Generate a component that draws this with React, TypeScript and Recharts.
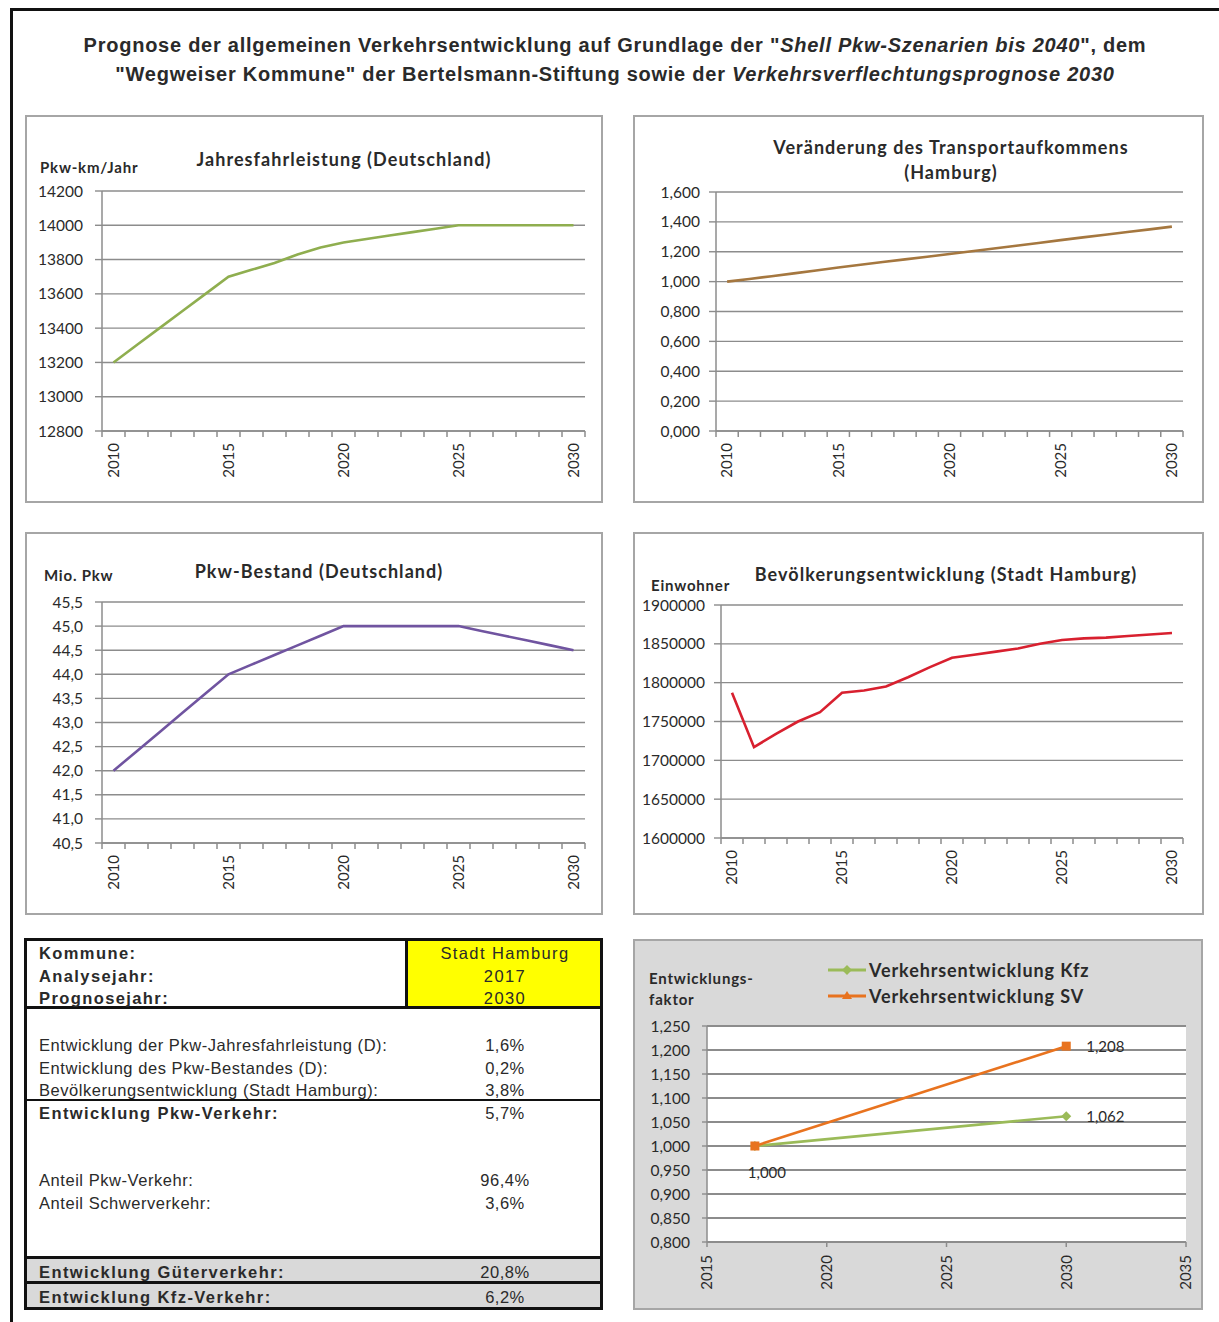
import React from 'react'
import { LineChart, Line, XAxis, YAxis, CartesianGrid, LabelList, Legend } from 'recharts'

const CHART_FONT = 'Lato, "Open Sans", sans-serif'
const TABLE_FONT = '"Liberation Sans", Arial, sans-serif'
const gridColor = '#8c8c8c'
const axisColor = '#8c8c8c'
const textColor = '#2a2a2a'

// Jahreswerte 2010 - 2030
const years = [2010, 2011, 2012, 2013, 2014, 2015, 2016, 2017, 2018, 2019, 2020, 2021, 2022, 2023, 2024, 2025, 2026, 2027, 2028, 2029, 2030]
const yearLabels = [2010, 2015, 2020, 2025, 2030]

const fahrleistung = [13200, 13300, 13400, 13500, 13600, 13700, 13740, 13780, 13830, 13870, 13900, 13920, 13940, 13960, 13980, 14000, 14000, 14000, 14000, 14000, 14000]
const fahrleistungTicks = [12800, 13000, 13200, 13400, 13600, 13800, 14000, 14200]

const transport = [1.0, 1.018, 1.036, 1.055, 1.075, 1.095, 1.113, 1.131, 1.149, 1.167, 1.185, 1.203, 1.222, 1.24, 1.259, 1.278, 1.296, 1.314, 1.332, 1.35, 1.368]
const transportTicks = [0, 0.2, 0.4, 0.6, 0.8, 1.0, 1.2, 1.4, 1.6]

const pkwBestand = [42.0, 42.4, 42.8, 43.2, 43.6, 44.0, 44.2, 44.4, 44.6, 44.8, 45.0, 45.0, 45.0, 45.0, 45.0, 45.0, 44.9, 44.8, 44.7, 44.6, 44.5]
const bestandTicks = [40.5, 41.0, 41.5, 42.0, 42.5, 43.0, 43.5, 44.0, 44.5, 45.0, 45.5]

const einwohner = [1787000, 1717000, 1734000, 1750000, 1762000, 1787000, 1790000, 1795000, 1807000, 1820000, 1832000, 1836000, 1840000, 1844000, 1850000, 1855000, 1857000, 1858000, 1860000, 1862000, 1864000]
const einwohnerTicks = [1600000, 1650000, 1700000, 1750000, 1800000, 1850000, 1900000]

// Entwicklungsfaktoren
const prognoseJahre = [2017, 2030]
const kfzFaktor = [1.0, 1.062]
const svFaktor = [1.0, 1.208]
const faktorTicks = [0.8, 0.85, 0.9, 0.95, 1.0, 1.05, 1.1, 1.15, 1.2, 1.25]
const faktorYearTicks = [2015, 2020, 2025, 2030, 2035]
const kfzName = 'Verkehrsentwicklung Kfz'
const svName = 'Verkehrsentwicklung SV'

// Tabelle
const headerLabels = ['Kommune:', 'Analysejahr:', 'Prognosejahr:']
const headerValues = ['Stadt Hamburg', '2017', '2030']
const faktorRows = [
    { label: 'Entwicklung der Pkw-Jahresfahrleistung (D):', value: '1,6%' },
    { label: 'Entwicklung des Pkw-Bestandes (D):', value: '0,2%' },
    { label: 'Bevölkerungsentwicklung (Stadt Hamburg):', value: '3,8%' },
]
const pkwRow = { label: 'Entwicklung Pkw-Verkehr:', value: '5,7%' }
const anteilRows = [
    { label: 'Anteil Pkw-Verkehr:', value: '96,4%' },
    { label: 'Anteil Schwerverkehr:', value: '3,6%' },
]
const gueterRow = { label: 'Entwicklung Güterverkehr:', value: '20,8%' }
const kfzRow = { label: 'Entwicklung Kfz-Verkehr:', value: '6,2%' }

const boundaryTicks = years.map(y => y - 0.5).concat([years[years.length - 1] + 0.5])

const YearTick = ({ x, y, payload }: any) => {
    const v = payload.value
    if (!Number.isInteger(v)) {
        return <line x1={x} y1={y} x2={x} y2={y + 6} stroke={axisColor} strokeWidth={1.5} />
    }
    return (
        <text x={x} y={y + 12} transform={`rotate(-90 ${x} ${y + 12})`} textAnchor="end" dy="0.35em"
            fontSize={15} fontFamily={CHART_FONT} fill={textColor}>{v}</text>
    )
}

const FaktorTick = ({ x, y, payload }: any) => (
    <g>
        <line x1={x} y1={y} x2={x} y2={y + 5} stroke={axisColor} strokeWidth={1.5} />
        <text x={x} y={y + 13} transform={`rotate(-90 ${x} ${y + 13})`} textAnchor="end" dy="0.35em"
            fontSize={15} fontFamily={CHART_FONT} fill={textColor}>{payload.value}</text>
    </g>
)

type PanelProps = {
    left: number; top: number; width: number; height: number
    values: number[]; color: string
    yDomain: [number, number]; yTicks: number[]; fmt: (v: number) => string
    margin: { top: number; right: number; bottom: number }
    yWidth: number; yTickMargin: number
    title: string[]; titleX: number; titleY: number; titleGap?: number
    unit?: string; unitX?: number; unitY?: number
}

const YearPanel = (p: PanelProps) => {
    const data = years.map((year, i) => ({ year, v: p.values[i] }))
    return (
        <div style={{ position: 'absolute', left: p.left, top: p.top, width: p.width, height: p.height, background: '#fff' }}>
            <LineChart width={p.width} height={p.height} data={data}
                margin={{ top: p.margin.top, right: p.margin.right, bottom: 0, left: 0 }}>
                <CartesianGrid vertical={false} stroke={gridColor} strokeWidth={1.4} />
                <XAxis dataKey="year" type="number" domain={[2009.5, 2030.5]}
                    ticks={[...boundaryTicks, ...yearLabels]} interval={0}
                    height={p.margin.bottom} tickSize={0} tickMargin={0} tickLine={false}
                    axisLine={{ stroke: axisColor, strokeWidth: 1.5 }} tick={<YearTick />} />
                <YAxis type="number" domain={p.yDomain} ticks={p.yTicks} interval={0}
                    tickFormatter={p.fmt} width={p.yWidth} tickSize={7} tickMargin={p.yTickMargin}
                    axisLine={{ stroke: axisColor, strokeWidth: 1.5 }} tickLine={{ stroke: axisColor, strokeWidth: 1.4 }}
                    tick={{ fontSize: 15.5, fill: textColor, fontFamily: CHART_FONT }} />
                <Line type="linear" dataKey="v" stroke={p.color} strokeWidth={2.6} dot={false} isAnimationActive={false} />
            </LineChart>
            {p.title.map((t, i) => (
                <div key={t} style={{
                    position: 'absolute', left: p.titleX - 260, width: 520, textAlign: 'center',
                    top: p.titleY + i * (p.titleGap || 25) - 12, height: 24, lineHeight: '24px',
                    fontFamily: CHART_FONT, fontWeight: 700, fontSize: 18, letterSpacing: 1.05, color: textColor,
                    whiteSpace: 'nowrap',
                }}>{t}</div>
            ))}
            {p.unit && (
                <div style={{
                    position: 'absolute', left: p.unitX, top: (p.unitY || 0) - 10, height: 20, lineHeight: '20px',
                    fontFamily: CHART_FONT, fontWeight: 700, fontSize: 15, letterSpacing: 0.8, color: textColor, whiteSpace: 'nowrap',
                }}>{p.unit}</div>
            )}
            <div style={{ position: 'absolute', left: 0, top: 0, width: p.width, height: p.height, border: '2px solid #a6a6a6', boxSizing: 'border-box', pointerEvents: 'none' }} />
        </div>
    )
}

const DiamondDot = ({ cx, cy, stroke }: any) => (
    <polygon points={`${cx},${cy - 5} ${cx + 5},${cy} ${cx},${cy + 5} ${cx - 5},${cy}`} fill={stroke} />
)
const SquareDot = ({ cx, cy, stroke }: any) => (
    <rect x={cx - 4.5} y={cy - 4.5} width={9} height={9} fill={stroke} />
)

const fmtFaktor = (v: number) => v.toFixed(3).replace('.', ',')

const FaktorLabel = ({ x, y, value, below }: any) => {
    if (value === 1) {
        if (!below) return null
        return <text x={x + 12} y={y + 26} textAnchor="middle" dominantBaseline="central" fontSize={15} fontFamily={CHART_FONT} fill={textColor}>{fmtFaktor(value)}</text>
    }
    return <text x={x + 20} y={y} textAnchor="start" dominantBaseline="central" fontSize={15} fontFamily={CHART_FONT} fill={textColor}>{fmtFaktor(value)}</text>
}

const FaktorLegend = ({ payload }: any) => (
    <div>
        {(payload || []).map((entry: any) => (
            <div key={entry.value} style={{ display: 'flex', alignItems: 'center', height: 26 }}>
                <svg width={38} height={14}>
                    <line x1={0} y1={7} x2={38} y2={7} stroke={entry.color} strokeWidth={3} />
                    {entry.value === kfzName
                        ? <polygon points="19,2 24,7 19,12 14,7" fill={entry.color} />
                        : <polygon points="19,2 24,10 14,10" fill={entry.color} />}
                </svg>
                <span style={{ marginLeft: 3, fontFamily: CHART_FONT, fontWeight: 700, fontSize: 18, letterSpacing: 0.9, color: textColor, whiteSpace: 'nowrap' }}>{entry.value}</span>
            </div>
        ))}
    </div>
)

const FaktorPanel = () => {
    const kfzData = prognoseJahre.map((jahr, i) => ({ jahr, faktor: kfzFaktor[i] }))
    const svData = prognoseJahre.map((jahr, i) => ({ jahr, faktor: svFaktor[i] }))
    const W = 570
    const H = 371
    return (
        <div style={{ position: 'absolute', left: 633, top: 939, width: W, height: H, background: '#d9d9d9' }}>
            <LineChart width={W} height={H} margin={{ top: 87, right: 17, bottom: 0, left: 0 }}>
                <CartesianGrid vertical={false} stroke={gridColor} strokeWidth={1.8} fill="#ffffff" fillOpacity={1} />
                <XAxis dataKey="jahr" type="number" domain={[2015, 2035]} ticks={faktorYearTicks} interval={0}
                    height={68} tickSize={0} tickMargin={0} tickLine={false}
                    axisLine={{ stroke: axisColor, strokeWidth: 1.5 }} tick={<FaktorTick />} />
                <YAxis type="number" domain={[0.8, 1.25]} ticks={faktorTicks} interval={0}
                    tickFormatter={fmtFaktor} width={74} tickSize={5} tickMargin={12}
                    axisLine={{ stroke: axisColor, strokeWidth: 1.5 }} tickLine={{ stroke: axisColor, strokeWidth: 1.4 }}
                    tick={{ fontSize: 15.5, fill: textColor, fontFamily: CHART_FONT }} />
                <Legend layout="vertical" verticalAlign="middle" align="center"
                    wrapperStyle={{ top: 18, left: 195, width: 340 }} content={<FaktorLegend />} />
                <Line data={kfzData} name={kfzName} type="linear" dataKey="faktor" stroke="#9bbb59" strokeWidth={2.6}
                    dot={<DiamondDot />} isAnimationActive={false}>
                    <LabelList dataKey="faktor" content={<FaktorLabel below />} />
                </Line>
                <Line data={svData} name={svName} type="linear" dataKey="faktor" stroke="#e8731f" strokeWidth={2.6}
                    dot={<SquareDot />} isAnimationActive={false}>
                    <LabelList dataKey="faktor" content={<FaktorLabel />} />
                </Line>
            </LineChart>
            <div style={{ position: 'absolute', left: 16, top: 29, fontFamily: CHART_FONT, fontWeight: 700, fontSize: 15, letterSpacing: 0.8, color: textColor, lineHeight: '21px' }}>
                Entwicklungs-<br />faktor
            </div>
            <div style={{ position: 'absolute', left: 0, top: 0, width: W, height: H, border: '2px solid #a6a6a6', boxSizing: 'border-box', pointerEvents: 'none' }} />
        </div>
    )
}

const TableText = ({ y, children, bold, x = 39 }: any) => (
    <div style={{
        position: 'absolute', left: x, top: y - 10, height: 20, lineHeight: '20px', whiteSpace: 'nowrap',
        fontFamily: TABLE_FONT, fontSize: 16.5, fontWeight: bold ? 700 : 400, letterSpacing: bold ? 1.4 : 0.55, color: textColor,
    }}>{children}</div>
)
const TableValue = ({ y, children, spacing = 0.5 }: any) => (
    <div style={{
        position: 'absolute', left: 440, width: 130, textAlign: 'center', top: y - 10, height: 20, lineHeight: '20px',
        fontFamily: TABLE_FONT, fontSize: 16.5, fontWeight: 400, letterSpacing: spacing, color: textColor, whiteSpace: 'nowrap',
    }}>{children}</div>
)
const HLine = ({ y, h }: any) => (
    <div style={{ position: 'absolute', left: 24, top: y, width: 579, height: h, background: '#111' }} />
)

const Tabelle = () => (
    <>
        <div style={{ position: 'absolute', left: 24, top: 1257, width: 579, height: 52, background: '#d9d9d9' }} />
        <div style={{ position: 'absolute', left: 405, top: 938, width: 198, height: 71, background: '#ffff00', border: '3px solid #111', boxSizing: 'border-box' }} />
        <div style={{ position: 'absolute', left: 24, top: 938, width: 579, height: 372, border: '3px solid #111', boxSizing: 'border-box' }} />
        <HLine y={1006} h={3} />
        <HLine y={1099} h={2} />
        <HLine y={1256} h={3} />
        <HLine y={1281} h={3} />
        {headerLabels.map((l, i) => <TableText key={l} y={953 + i * 22.7} bold>{l}</TableText>)}
        {headerValues.map((v, i) => <TableValue key={v} y={953 + i * 22.7} spacing={1.4}>{v}</TableValue>)}
        {faktorRows.map((r, i) => (
            <React.Fragment key={r.label}>
                <TableText y={1045 + i * 22.5}>{r.label}</TableText>
                <TableValue y={1045 + i * 22.5}>{r.value}</TableValue>
            </React.Fragment>
        ))}
        <TableText y={1113} bold>{pkwRow.label}</TableText>
        <TableValue y={1113}>{pkwRow.value}</TableValue>
        {anteilRows.map((r, i) => (
            <React.Fragment key={r.label}>
                <TableText y={1180 + i * 23}>{r.label}</TableText>
                <TableValue y={1180 + i * 23}>{r.value}</TableValue>
            </React.Fragment>
        ))}
        <TableText y={1272} bold>{gueterRow.label}</TableText>
        <TableValue y={1272}>{gueterRow.value}</TableValue>
        <TableText y={1297} bold>{kfzRow.label}</TableText>
        <TableValue y={1297}>{kfzRow.value}</TableValue>
    </>
)

const App = () => {
    const titleStyle: React.CSSProperties = {
        position: 'absolute', left: 15, width: 1200, textAlign: 'center', height: 28, lineHeight: '28px',
        fontFamily: TABLE_FONT, fontWeight: 700, fontSize: 20, letterSpacing: 0.75, color: textColor, whiteSpace: 'nowrap',
    }
    return (
        <div style={{ position: 'absolute', left: 0, top: 0, width: 1219, height: 1322, background: '#fff', overflow: 'hidden' }}>
            <div style={{ position: 'absolute', left: 10, top: 8, width: 3, height: 1314, background: '#111' }} />
            <div style={{ position: 'absolute', left: 10, top: 8, width: 1209, height: 3, background: '#111' }} />
            <div style={{ ...titleStyle, top: 31 }}>
                Prognose der allgemeinen Verkehrsentwicklung auf Grundlage der "<i>Shell Pkw-Szenarien bis 2040</i>", dem
            </div>
            <div style={{ ...titleStyle, top: 60 }}>
                "Wegweiser Kommune" der Bertelsmann-Stiftung sowie der <i>Verkehrsverflechtungsprognose 2030</i>
            </div>

            <YearPanel left={25} top={115} width={578} height={388} values={fahrleistung} color="#8fae4f"
                yDomain={[12800, 14200]} yTicks={fahrleistungTicks} fmt={(v) => String(v)}
                margin={{ top: 76, right: 18, bottom: 72 }} yWidth={77} yTickMargin={12}
                title={['Jahresfahrleistung (Deutschland)']} titleX={319} titleY={44}
                unit="Pkw-km/Jahr" unitX={15} unitY={52} />

            <YearPanel left={633} top={115} width={571} height={388} values={transport} color="#a5773f"
                yDomain={[0, 1.6]} yTicks={transportTicks} fmt={(v) => v.toFixed(3).replace('.', ',')}
                margin={{ top: 77, right: 21, bottom: 72 }} yWidth={83} yTickMargin={9}
                title={['Veränderung des Transportaufkommens', '(Hamburg)']} titleX={318} titleY={32} />

            <YearPanel left={25} top={532} width={578} height={383} values={pkwBestand} color="#7054a0"
                yDomain={[40.5, 45.5]} yTicks={bestandTicks} fmt={(v) => v.toFixed(1).replace('.', ',')}
                margin={{ top: 70, right: 18, bottom: 72 }} yWidth={77} yTickMargin={12}
                title={['Pkw-Bestand (Deutschland)']} titleX={294} titleY={39}
                unit="Mio. Pkw" unitX={19} unitY={43} />

            <YearPanel left={633} top={532} width={571} height={383} values={einwohner} color="#d8202f"
                yDomain={[1600000, 1900000]} yTicks={einwohnerTicks} fmt={(v) => String(v)}
                margin={{ top: 73, right: 21, bottom: 77 }} yWidth={88} yTickMargin={9}
                title={['Bevölkerungsentwicklung (Stadt Hamburg)']} titleX={313} titleY={42}
                unit="Einwohner" unitX={18} unitY={53} />

            <Tabelle />
            <FaktorPanel />
        </div>
    )
}

export default App
